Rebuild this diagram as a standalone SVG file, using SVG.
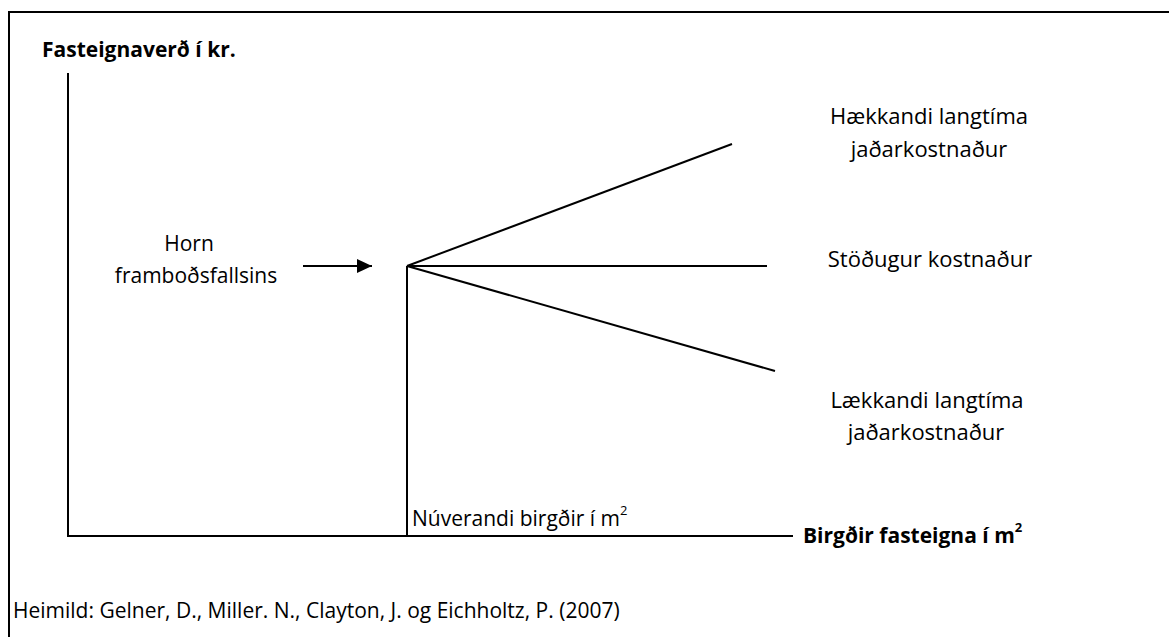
<svg xmlns="http://www.w3.org/2000/svg" width="1169" height="637" viewBox="0 0 1169 637">
<style>
text{font-family:"Open Sans","Liberation Sans",sans-serif;font-size:21px;fill:#000}
.b{font-weight:bold}
.c{text-anchor:middle}
.r{font-size:22px}
.ln{stroke:#000;stroke-width:2;fill:none}
.sup{font-size:13px}
</style>
<defs>
<marker id="ah" markerWidth="16" markerHeight="14" refX="15" refY="7" orient="auto" markerUnits="userSpaceOnUse">
<path d="M0,0 L15,7 L0,14 Z" fill="#000"/>
</marker>
</defs>
<rect width="1169" height="637" fill="#fff"/>
<g id="frame"><path class="ln" d="M9,637 V12 H1169"/></g>
<g id="axes">
<line class="ln" x1="68" y1="73" x2="68" y2="537"/>
<line class="ln" x1="67" y1="536" x2="793" y2="536"/>
</g>
<g id="connectors">
<line class="ln" x1="407" y1="266" x2="407" y2="537"/>
<line class="ln" x1="407" y1="266" x2="732" y2="144"/>
<line class="ln" x1="407" y1="266" x2="767" y2="266"/>
<line class="ln" x1="407" y1="266" x2="775" y2="371"/>
<line class="ln" x1="303" y1="266" x2="372" y2="266" marker-end="url(#ah)"/>
</g>
<g id="ylabel"><text class="b" x="42" y="57">Fasteignaverð í kr.</text></g>
<g id="xlabel"><text class="b" x="803" y="543">Birgðir fasteigna í m<tspan class="sup" dy="-11">2</tspan></text></g>
<g id="current"><text x="412" y="526">Núverandi birgðir í m<tspan class="sup" dy="-11">2</tspan></text></g>
<g id="horn"><text class="c" x="189" y="251">Horn</text><text class="c" x="196" y="283">framboðsfallsins</text></g>
<g id="rising"><text class="c r" x="929" y="124">Hækkandi langtíma</text><text class="c r" x="929" y="157">jaðarkostnaður</text></g>
<g id="constant"><text class="c r" x="930" y="267">Stöðugur kostnaður</text></g>
<g id="falling"><text class="c r" x="927" y="408">Lækkandi langtíma</text><text class="c r" x="926" y="440">jaðarkostnaður</text></g>
<g id="source"><text x="13" y="618">Heimild: Gelner, D., Miller. N., Clayton, J. og Eichholtz, P. (2007)</text></g>
</svg>
